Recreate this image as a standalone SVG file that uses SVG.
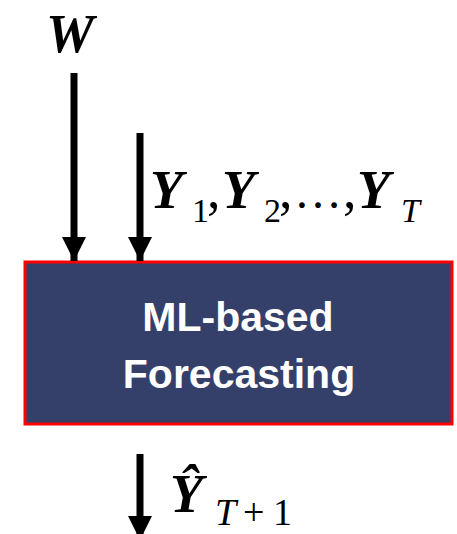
<svg xmlns="http://www.w3.org/2000/svg" width="457" height="534" viewBox="0 0 457 534">
<style>
.m{font-family:"Liberation Serif","DejaVu Serif",serif;fill:#000}
.bi{font-weight:bold;font-style:italic;font-size:54px}
.c{font-size:54px}
.s{font-size:34px}
.i{font-style:italic}
.lbl{font-family:"Liberation Sans",Arial,sans-serif;font-weight:bold;font-size:41px;fill:#fff;text-anchor:middle}
.ln{stroke:#000;stroke-width:7;fill:none}
</style>
<defs>
<marker id="ah" markerUnits="userSpaceOnUse" markerWidth="24" markerHeight="24" refX="22" refY="11" viewBox="0 0 22 22" orient="auto">
<path d="M0,0 L22,11 L0,22 Z" fill="#000"/>
</marker>
</defs>
<rect width="457" height="534" fill="#fff"/>
<g id="forecaster">
<rect x="25" y="262" width="427" height="162" fill="#35406A" stroke="#FF0000" stroke-width="3"/>
<text class="lbl" x="238" y="331">ML-based</text>
<text class="lbl" x="239" y="388">Forecasting</text>
</g>
<g id="input-w">
<text class="m bi" x="46" y="52" font-size="56">W</text>
</g>
<g id="input-y">
<text class="m bi" x="150" y="208">Y</text>
<text class="m s" x="192" y="222">1</text>
<text class="m c" x="207" y="208">,</text>
<text class="m bi" x="222" y="208">Y</text>
<text class="m s" x="264" y="222">2</text>
<text class="m c" x="279" y="208">,</text>
<text class="m" x="294" y="208" font-size="48">…</text>
<text class="m c" x="343" y="208">,</text>
<text class="m bi" x="357" y="208">Y</text>
<text class="m s i" x="401" y="222">T</text>
</g>
<g id="output-y">
<text class="m bi" x="170" y="512">Ŷ</text>
<text class="m i" x="215" y="525" font-size="38">T</text>
<text class="m" x="243" y="525" font-size="38">+</text>
<text class="m" x="273" y="525" font-size="38">1</text>
</g>
<g id="connectors">
<line class="ln" x1="74" y1="73" x2="74" y2="261" marker-end="url(#ah)"/>
<line class="ln" x1="140" y1="133" x2="140" y2="261" marker-end="url(#ah)"/>
<line class="ln" x1="140" y1="454" x2="140" y2="540" marker-end="url(#ah)"/>
</g>
</svg>
